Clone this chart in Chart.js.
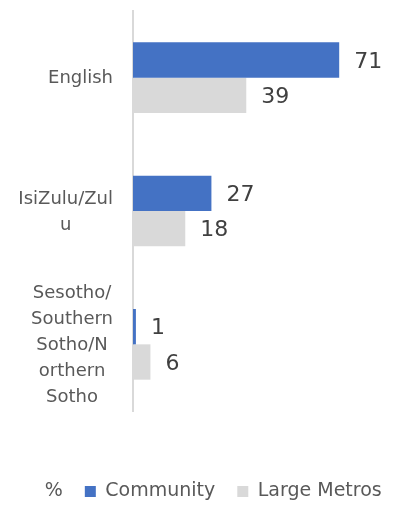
<!DOCTYPE html>
<html>
<head>
<meta charset="utf-8">
<script src="https://cdn.jsdelivr.net/npm/chart.js@4.4.1/dist/chart.umd.min.js"></script>
<style>
  html, body { margin: 0; padding: 0; background: #fff; }
  #wrap { width: 406px; height: 513px; }
</style>
</head>
<body>
<div id="wrap"><canvas id="chart" width="406" height="513"></canvas></div>
<script>
const categories = [
  ["English"],
  ["IsiZulu/Zul", "u"],
  ["Sesotho/", "Southern", "Sotho/N", "orthern", "Sotho"]
];
const community = [71, 27, 1];
const largeMetros = [39, 18, 6];
const legendTitle = "%";

const FONT = "'DejaVu Sans', sans-serif";
const TEXT = '#595959';

// etiquetas de valor al final de cada barra
const valueLabels = {
  id: 'valueLabels',
  afterDatasetsDraw(chart) {
    const ctx = chart.ctx;
    ctx.save();
    ctx.font = '22px ' + FONT;
    ctx.fillStyle = '#404040';
    ctx.textAlign = 'left';
    ctx.textBaseline = 'middle';
    chart.data.datasets.forEach((ds, di) => {
      chart.getDatasetMeta(di).data.forEach((bar, i) => {
        ctx.fillText(ds.data[i], bar.x + 15, bar.y + 2);
      });
    });
    ctx.restore();
  }
};

// etiquetas de categoria: bloque alineado a la derecha, lineas centradas
const categoryLabels = {
  id: 'categoryLabels',
  afterDraw(chart) {
    const ctx = chart.ctx;
    const scale = chart.scales.y;
    const lineH = 26;
    ctx.save();
    ctx.font = '18px ' + FONT;
    ctx.fillStyle = TEXT;
    ctx.textAlign = 'center';
    ctx.textBaseline = 'middle';
    categories.forEach((lines, i) => {
      const y = scale.getPixelForValue(i);
      const maxW = Math.max(...lines.map(l => ctx.measureText(l).width));
      const cx = 113 - maxW / 2;
      const top = y - (lines.length - 1) * lineH / 2 + 1;
      lines.forEach((l, k) => ctx.fillText(l, cx, top + k * lineH));
    });
    ctx.restore();
  }
};

new Chart(document.getElementById('chart'), {
  type: 'bar',
  data: {
    labels: categories,
    datasets: [
      { label: 'Community', data: community, backgroundColor: '#4472C4' },
      { label: 'Large Metros', data: largeMetros, backgroundColor: '#D9D9D9' }
    ]
  },
  options: {
    indexAxis: 'y',
    responsive: false,
    animation: false,
    layout: { padding: { top: 11, right: 0, bottom: 2, left: 0 } },
    datasets: { bar: { categoryPercentage: 0.53, barPercentage: 1.0 } },
    scales: {
      x: { display: false, min: 0, max: 94 },
      y: {
        grid: { display: false },
        border: { display: true, color: '#D9D9D9', width: 2 },
        ticks: { display: false },
        afterFit(scale) { scale.width = 133; }
      }
    },
    plugins: {
      tooltip: { enabled: false },
      legend: {
        position: 'bottom',
        title: { display: true, text: ' ', font: { size: 10 }, padding: { top: 0, bottom: 37 } },
        labels: {
          font: { family: FONT, size: 19 },
          color: TEXT,
          boxWidth: 11,
          boxHeight: 11,
          padding: 22,
          generateLabels(chart) {
            const items = [{ text: legendTitle, fillStyle: 'rgba(0,0,0,0)', strokeStyle: 'rgba(0,0,0,0)', lineWidth: 0, fontColor: TEXT }];
            chart.data.datasets.forEach((ds, i) => {
              items.push({ text: ds.label, fillStyle: ds.backgroundColor, strokeStyle: ds.backgroundColor, lineWidth: 0, datasetIndex: i, fontColor: TEXT });
            });
            return items;
          }
        }
      }
    }
  },
  plugins: [valueLabels, categoryLabels]
});
</script>
</body>
</html>
